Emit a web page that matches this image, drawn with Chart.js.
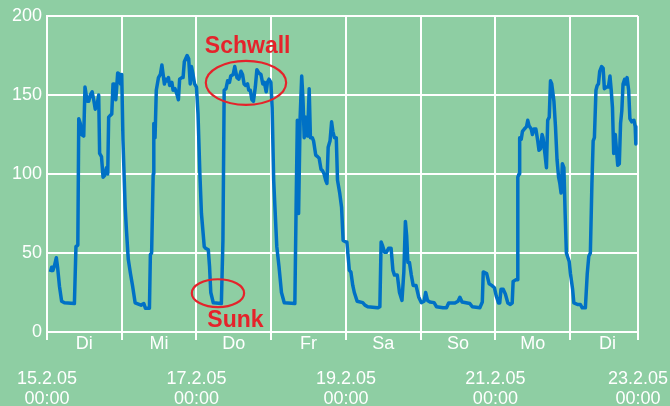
<!DOCTYPE html>
<html>
<head>
<meta charset="utf-8">
<script src="https://cdn.jsdelivr.net/npm/chart.js@4"></script>
<style>
  html, body { margin: 0; padding: 0; background: #8ecea3; }
  canvas { display: block; }
</style>
</head>
<body>
<canvas id="flow-chart" width="670" height="406"></canvas>
<script>
// hours since 15.2.05 00:00 and discharge (m3/s)
const hours = [
  1.1, 1.5, 1.9, 2.4, 3.0, 3.4, 4.0, 4.7, 5.6, 8.8, 9.3, 9.9, 10.2, 10.7, 11.1, 11.8,
  12.2, 12.9, 13.4, 13.9, 14.5, 15.0, 15.5, 16.1, 16.6, 16.9, 17.5, 18.0, 18.5, 19.1,
  19.5, 19.8, 20.3, 20.8, 21.2, 21.6, 22.1, 22.7, 23.3, 23.6, 24.0, 24.4, 25.1, 25.5,
  26.1, 26.8, 27.5, 28.3, 30.2, 31.1, 31.6, 32.9, 33.2, 33.6, 34.1, 34.3, 34.7, 35.1,
  35.8, 36.4, 36.9, 37.3, 37.7, 38.1, 38.6, 39.0, 39.4, 40.1, 40.5, 41.1, 41.8, 42.2,
  42.6, 43.3, 43.7, 44.1, 45.0, 45.5, 46.0, 46.4, 46.9, 47.4, 48.0, 48.5, 49.1, 49.6,
  50.5, 50.9, 51.8, 52.2, 52.6, 53.4, 56.0, 56.5, 56.9, 57.5, 58.0, 58.6, 59.0, 59.8,
  60.3, 61.0, 61.6, 62.3, 62.8, 63.3, 63.8, 64.4, 64.8, 65.3, 65.8, 66.3, 66.9, 67.4,
  68.0, 68.7, 69.3, 69.8, 70.4, 70.8, 71.3, 71.9, 72.3, 72.8, 73.2, 73.8, 74.5, 75.3,
  76.2, 79.6, 80.0, 80.4, 80.8, 81.3, 81.8, 82.2, 82.6, 83.1, 83.7, 84.2, 84.6, 85.2,
  85.6, 86.3, 86.9, 87.4, 88.0, 88.5, 89.0, 89.5, 89.9, 90.3, 90.9, 91.4, 91.8, 92.3,
  92.9, 93.3, 94.0, 94.6, 95.1, 96.0, 96.3, 97.1, 97.6, 98.2, 98.7, 99.6, 101.4, 102.1,
  103.0, 106.2, 106.9, 107.3, 107.7, 108.4, 109.0, 109.7, 110.5, 111.1, 111.6, 112.5,
  113.2, 114.0, 114.6, 115.1, 115.5, 115.9, 116.4, 117.0, 117.6, 118.5, 119.4, 120.2,
  121.1, 121.6, 122.2, 123.0, 124.3, 125.1, 127.2, 128.3, 129.0, 131.0, 132.0, 132.6,
  133.3, 135.8, 136.6, 139.0, 139.8, 140.1, 141.2, 142.0, 142.8, 143.7, 144.3, 145.0,
  145.4, 145.8, 146.5, 147.2, 148.0, 148.8, 149.4, 149.7, 150.5, 151.0, 151.2, 151.6,
  151.8, 152.3, 152.7, 153.3, 154.0, 154.4, 154.8, 155.5, 155.9, 156.4, 157.0, 157.6,
  158.0, 158.5, 159.0, 159.3, 159.9, 160.4, 160.8, 161.3, 161.7, 162.1, 162.8, 163.3,
  163.8, 164.3, 164.7, 165.1, 165.5, 166.0, 166.4, 166.8, 167.3, 167.7, 168.1, 168.8,
  169.2, 170.5, 171.3, 171.9, 172.9, 173.5, 174.0, 174.5, 175.0, 175.4, 175.8, 176.3,
  176.7, 177.1, 177.5, 178.1, 178.6, 179.0, 179.7, 180.3, 180.8, 181.2, 181.6, 182.0,
  182.5, 182.9, 183.3, 183.8, 184.2, 184.6, 185.0, 185.5, 185.9, 186.3, 186.8, 187.2,
  187.8, 188.5, 188.9, 189.1
];
const flow = [
  38, 41, 39, 42, 47, 41, 29, 19.5, 18.5, 18, 54, 55, 135, 132, 125, 124,
  155, 146, 146, 150, 152, 147, 141, 144, 150, 113, 111, 98, 99, 104,
  100, 136, 137, 138, 157, 157, 147, 164, 163, 157, 163, 121, 79, 65,
  46, 37, 29, 18.5, 17, 18, 15, 15, 49, 50, 100, 132, 123, 153,
  161, 163, 169, 163, 157, 160, 159, 161, 156, 158, 153, 154, 150, 147,
  160, 161, 161, 171, 175, 173, 157, 168, 163, 157, 155, 138, 100, 75,
  54, 53, 52, 41.5, 25, 18.5, 18, 58, 153, 154, 159, 158, 162, 163,
  168, 161, 160, 165, 163, 157, 156, 157, 153, 153, 147, 146, 155, 166,
  164, 163, 157, 158, 152, 158, 160, 158, 142, 96, 79, 54, 41.5, 25,
  18.5, 18, 79, 134, 75, 136, 162, 148, 123, 136, 124, 154, 123, 123,
  121, 112, 111, 110, 103, 102, 100, 96, 94, 117, 121, 133, 127, 123,
  123, 96, 88, 79, 58, 57, 57, 39, 38, 29.5, 25, 19.5, 18.6, 17,
  16, 15.3, 16, 57, 55, 50.4, 50.4, 53, 53, 39, 36, 36,
  25, 20, 38, 70, 61, 44, 44, 36, 29.5, 29.5, 22, 18.6,
  19.5, 25, 20, 19, 18.6, 16, 15.3, 15.3, 18.4, 18.4, 19.5, 22,
  19, 18, 16, 15.3, 19, 38, 37, 30.5, 29.5, 28, 22.6, 18.4,
  18.4, 27, 27, 24, 18.4, 17.4, 18.4, 32, 33, 33, 98, 100,
  123, 122, 127, 128.5, 130, 134, 130.6, 128.5, 125, 128.5, 128.5, 121,
  115, 116, 125, 123, 113, 104, 134, 136, 159, 157, 146, 130,
  109, 98, 94, 88, 106.5, 104, 75, 50, 47, 44.7, 37, 27,
  18.4, 17.4, 17.4, 15.3, 15.3, 37, 48, 50, 94, 121, 123, 153,
  156, 157, 165, 168, 167, 154, 155, 155, 162, 153, 142, 113,
  125, 115, 105.5, 106.5, 132, 140, 157, 160, 157, 161, 153, 135,
  133, 134, 130, 119
];
const dayNames = ["Di", "Mi", "Do", "Fr", "Sa", "So", "Mo", "Di"];
const dateLabels = ["15.2.05", "17.2.05", "19.2.05", "21.2.05", "23.2.05"];
const dateHours = [0, 48, 96, 144];
const endHour = 189.8;

const blue = "#0071c5";
const red = "#e5232b";
const fontFamily = "'Liberation Sans', Arial, sans-serif";

// red marks for Schwall / Sunk, placed in data coordinates
const annotations = {
    id: "annotations",
    afterDatasetsDraw(chart) {
        const { ctx, scales: { x, y } } = chart;
        const ellipse = (h, v, rh, rv) => {
            const cx = x.getPixelForValue(h), cy = y.getPixelForValue(v);
            const rx = Math.abs(x.getPixelForValue(h + rh) - cx);
            const ry = Math.abs(y.getPixelForValue(v + rv) - cy);
            ctx.beginPath();
            ctx.ellipse(cx, cy, rx, ry, 0, 0, Math.PI * 2);
            ctx.stroke();
        };
        ctx.save();
        ctx.strokeStyle = red;
        ctx.lineWidth = 2.2;
        ellipse(63.9, 157.7, 12.9, 13.9);
        ellipse(54.9, 24.6, 8.4, 8.8);
        ctx.fillStyle = red;
        ctx.font = "bold 23px " + fontFamily;
        ctx.textAlign = "left";
        ctx.textBaseline = "alphabetic";
        ctx.fillText("Schwall", x.getPixelForValue(50.7), y.getPixelForValue(176.5));
        ctx.fillText("Sunk", x.getPixelForValue(51.5), y.getPixelForValue(3.2));
        ctx.restore();
    }
};

const gridColor = (c) => (c.tick && c.tick.value % 24 === 12) ? "rgba(0,0,0,0)" : "#ffffff";

// keep the plot width fixed: ignore the label overhang at both ends
const fixHeight = (h) => (scale) => {
    scale.height = h;
    scale.paddingLeft = 0;
    scale.paddingRight = 0;
};

new Chart(document.getElementById("flow-chart"), {
    type: "line",
    data: {
        datasets: [{
            data: hours.map((h, i) => ({ x: h, y: flow[i] })),
            borderColor: blue,
            borderWidth: 3.5,
            pointRadius: 0,
            tension: 0,
            borderJoinStyle: "round",
            fill: false
        }]
    },
    options: {
        responsive: false,
        animation: false,
        layout: { padding: { top: 16, right: 32, left: 0, bottom: 0 } },
        plugins: { legend: { display: false }, tooltip: { enabled: false } },
        scales: {
            x: {
                type: "linear",
                position: "bottom",
                weight: 0,
                min: 0,
                max: endHour,
                afterBuildTicks: (scale) => {
                    const ticks = [];
                    for (let h = 0; h <= endHour; h += 12) ticks.push({ value: h });
                    ticks.push({ value: endHour });
                    scale.ticks = ticks;
                },
                afterFit: fixHeight(30),
                ticks: {
                    autoSkip: false,
                    maxRotation: 0,
                    minRotation: 0,
                    color: "#ffffff",
                    padding: -7,
                    font: { family: fontFamily, size: 18 },
                    callback: (value) => value % 24 === 12 ? dayNames[Math.floor(value / 24)] : ""
                },
                grid: { color: gridColor, tickColor: gridColor, lineWidth: 2, tickLength: 8 },
                border: { color: "#ffffff", width: 2 }
            },
            x2: {
                type: "linear",
                position: "bottom",
                weight: 1,
                min: 0,
                max: endHour,
                afterBuildTicks: (scale) => {
                    scale.ticks = dateHours.concat([endHour]).map(v => ({ value: v }));
                },
                afterFit: fixHeight(44),
                ticks: {
                    autoSkip: false,
                    maxRotation: 0,
                    minRotation: 0,
                    color: "#ffffff",
                    padding: 7,
                    font: { family: fontFamily, size: 18, lineHeight: 1.1 },
                    callback: (value, index) => [dateLabels[index], "00:00"]
                },
                grid: { display: false, drawTicks: false },
                border: { display: false }
            },
            y: {
                min: 0,
                max: 200,
                afterFit: (scale) => { scale.width = 47; },
                ticks: {
                    stepSize: 50,
                    color: "#ffffff",
                    padding: 5,
                    font: { family: fontFamily, size: 18 }
                },
                grid: { color: "#ffffff", lineWidth: 2, drawTicks: false },
                border: { color: "#ffffff", width: 2 }
            }
        }
    },
    plugins: [annotations]
});
</script>
</body>
</html>
